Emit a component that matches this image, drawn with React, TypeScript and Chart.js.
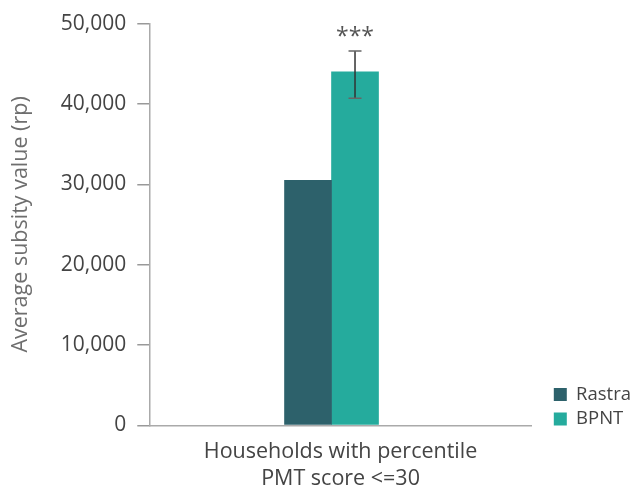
import React, { useEffect, useRef } from "react";
import { Chart, registerables } from "chart.js";

Chart.register(...registerables);

const categoryLabel = ["Households with percentile", "PMT score <=30"];
const seriesNames = ["Rastra", "BPNT"];
const rastraValues = [30500];
const bpntValues = [44000];
const bpntErrLow = [40700];
const bpntErrHigh = [46600];
const significance = ["***"];
const yTicks = [0, 10000, 20000, 30000, 40000, 50000];
const yTitle = "Average subsity value (rp)";

const COLORS = ["#2d616b", "#25ab9d"];

const LEGEND_SHIFT_X = 16;
const LEGEND_SHIFT_Y = 9;

const errorBarPlugin = {
  id: "errorBars",
  afterLayout(chart: any) {
    const lg = chart.legend;
    if (lg) {
      lg.left += LEGEND_SHIFT_X;
      lg.right += LEGEND_SHIFT_X;
      lg.top += LEGEND_SHIFT_Y;
      lg.bottom += LEGEND_SHIFT_Y;
    }
  },
  afterDatasetsDraw(chart: any) {
    const { ctx } = chart;
    const yScale = chart.scales.y;
    const meta = chart.getDatasetMeta(1);
    meta.data.forEach((bar: any, i: number) => {
      const x = bar.x;
      const yLo = yScale.getPixelForValue(bpntErrLow[i]);
      const yHi = yScale.getPixelForValue(bpntErrHigh[i]);
      ctx.save();
      ctx.strokeStyle = "#333";
      ctx.lineWidth = 1.5;
      ctx.beginPath();
      ctx.moveTo(x, yLo);
      ctx.lineTo(x, yHi);
      ctx.stroke();
      ctx.strokeStyle = "#666";
      ctx.beginPath();
      ctx.moveTo(x - 6.5, yHi);
      ctx.lineTo(x + 6.5, yHi);
      ctx.moveTo(x - 6.5, yLo);
      ctx.lineTo(x + 6.5, yLo);
      ctx.stroke();
      ctx.fillStyle = "#555";
      ctx.font = "23px 'Open Sans'";
      ctx.textAlign = "center";
      ctx.textBaseline = "middle";
      ctx.fillText(significance[i], x, yHi - 13);
      ctx.restore();
    });
  },
};

export default function App() {
  const ref = useRef<HTMLCanvasElement>(null);
  useEffect(() => {
    if (!ref.current) return;
    const chart = new Chart(ref.current, {
      type: "bar",
      data: {
        datasets: [
          {
            label: seriesNames[0],
            data: rastraValues.map((v, i) => ({ x: i, y: v })),
            backgroundColor: COLORS[0],
            barThickness: 47,
          },
          {
            label: seriesNames[1],
            data: bpntValues.map((v, i) => ({ x: i, y: v })),
            backgroundColor: COLORS[1],
            barThickness: 47,
          },
        ],
      },
      options: {
        animation: false,
        responsive: true,
        maintainAspectRatio: false,
        layout: { padding: { top: 7, right: 7, left: 4, bottom: 0 } },
        plugins: {
          tooltip: { enabled: false },
          legend: {
            position: "right",
            align: "end",
            fullSize: false,
            labels: {
              boxWidth: 13,
              boxHeight: 13,
              padding: 6,
              color: "#444",
              font: { family: "'Open Sans'", size: 18.5 },
            },
          },
        },
        scales: {
          x: {
            type: "linear",
            min: -0.5,
            max: 0.56,
            grid: { display: false },
            border: { display: true, color: "#aaa", width: 1.5 },
            ticks: { display: false },
            title: {
              display: true,
              text: categoryLabel,
              color: "#444",
              font: { family: "'Open Sans'", size: 21.5, lineHeight: 1.25 },
              padding: { top: 5, bottom: -6 },
            },
          },
          y: {
            min: 0,
            max: 50000,
            afterBuildTicks: (scale: any) => {
              scale.ticks = yTicks.map((v) => ({ value: v }));
            },
            grid: {
              display: true,
              drawOnChartArea: false,
              drawTicks: true,
              tickLength: 12,
              color: "#999",
              lineWidth: 1.5,
            },
            border: { display: true, color: "#aaa", width: 1.5 },
            ticks: {
              color: "#444",
              padding: 11,
              font: { family: "'Open Sans'", size: 21 },
              callback: (v: any) => Number(v).toLocaleString("en-US"),
            },
            title: {
              display: true,
              text: yTitle,
              color: "#6e6e6e",
              font: { family: "'Open Sans'", size: 21.5 },
              padding: { top: 4, bottom: 16 },
            },
          },
        },
      },
      plugins: [errorBarPlugin],
    } as any);
    return () => chart.destroy();
  }, []);
  return (
    <div style={{ position: "absolute", left: 0, top: 0, width: 632, height: 486 }}>
      <canvas ref={ref} />
    </div>
  );
}
